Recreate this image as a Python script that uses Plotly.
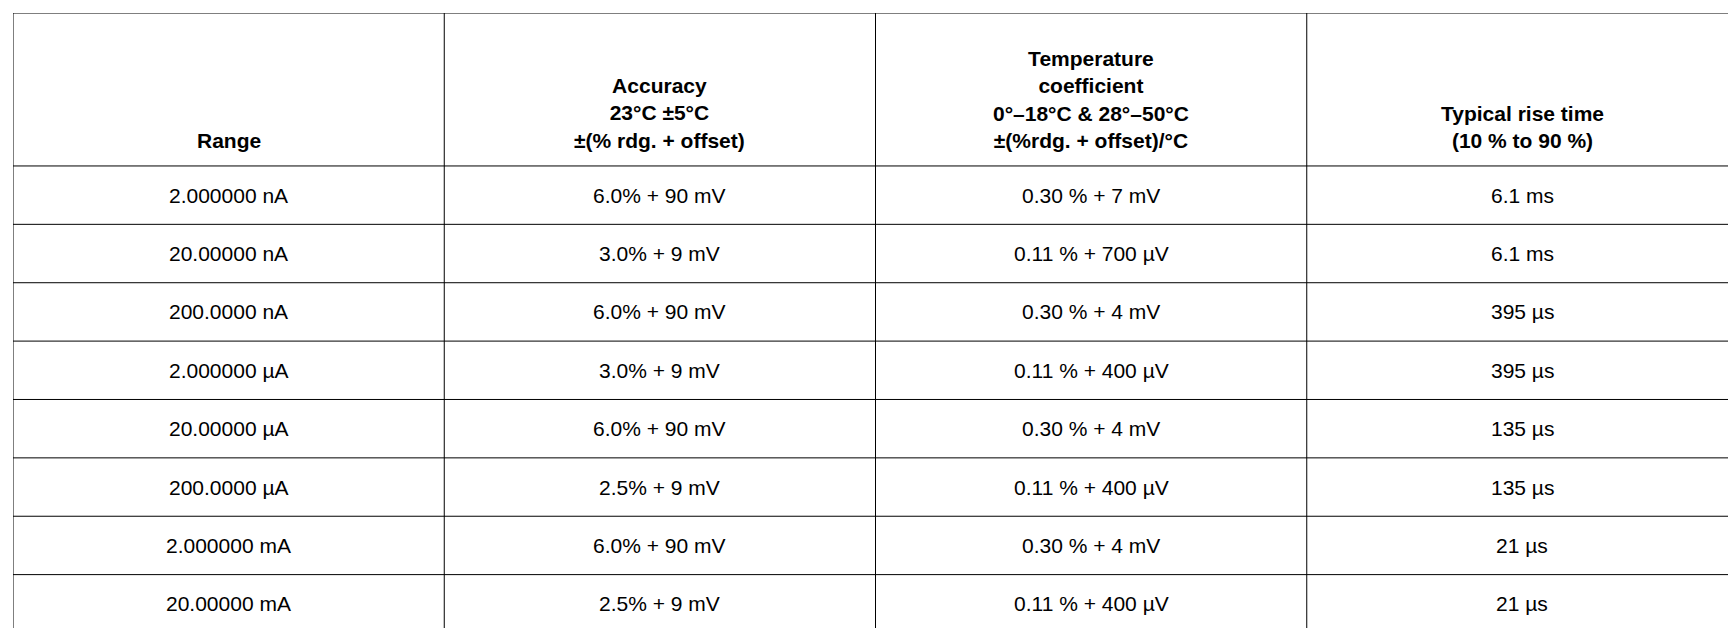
import plotly.graph_objects as go

headers = [
    "<b>Range</b>",
    "<b>Accuracy</b><br><b>23°C ±5°C</b><br><b>±(% rdg. + offset)</b>",
    "<b>Temperature</b><br><b>coefficient</b><br><b>0°–18°C & 28°–50°C</b><br><b>±(%rdg. + offset)/°C</b>",
    "<b>Typical rise time</b><br><b>(10 % to 90 %)</b>",
]

ranges = ["2.000000 nA", "20.00000 nA", "200.0000 nA", "2.000000 µA",
          "20.00000 µA", "200.0000 µA", "2.000000 mA", "20.00000 mA"]
accuracy = ["6.0% + 90 mV", "3.0% + 9 mV", "6.0% + 90 mV", "3.0% + 9 mV",
            "6.0% + 90 mV", "2.5% + 9 mV", "6.0% + 90 mV", "2.5% + 9 mV"]
tempco = ["0.30 % + 7 mV", "0.11 % + 700 µV", "0.30 % + 4 mV", "0.11 % + 400 µV",
          "0.30 % + 4 mV", "0.11 % + 400 µV", "0.30 % + 4 mV", "0.11 % + 400 µV"]
rise = ["6.1 ms", "6.1 ms", "395 µs", "395 µs", "135 µs", "135 µs", "21 µs", "21 µs"]

columns = [ranges, accuracy, tempco, rise]
n_rows = len(ranges)
n_cols = len(columns)
head_h = 2.62  # header height in row units

font = dict(family="Liberation Sans, Arial", size=21, color="black")
line = dict(color="black", width=1)

fig = go.Figure()
fig.add_trace(go.Scatter(x=[0, n_cols], y=[0, head_h + n_rows], mode="markers",
                         marker=dict(opacity=0), hoverinfo="skip", showlegend=False))

# header text, bottom aligned
for c, h in enumerate(headers):
    fig.add_annotation(x=c + 0.5, y=head_h - 0.2, text=h, showarrow=False,
                       xanchor="center", yanchor="bottom", align="center", font=font)

# body text
for c, col in enumerate(columns):
    for r, v in enumerate(col):
        fig.add_annotation(x=c + 0.5, y=head_h + r + 0.5, text=v, showarrow=False,
                           xanchor="center", yanchor="middle", font=font)

# grid lines
fig.add_shape(type="rect", x0=0, x1=n_cols, y0=0, y1=head_h + n_rows, line=line)
for c in range(1, n_cols):
    fig.add_shape(type="line", x0=c, x1=c, y0=0, y1=head_h + n_rows, line=line)
for r in range(n_rows):
    fig.add_shape(type="line", x0=0, x1=n_cols, y0=head_h + r, y1=head_h + r, line=line)

fig.update_xaxes(range=[0, n_cols], visible=False, fixedrange=True)
fig.update_yaxes(range=[head_h + n_rows, 0], visible=False, fixedrange=True)
fig.update_layout(
    width=1736, height=628,
    margin=dict(l=5, r=6, t=5, b=3),
    paper_bgcolor="white", plot_bgcolor="white",
)
fig.write_html("out.html")
